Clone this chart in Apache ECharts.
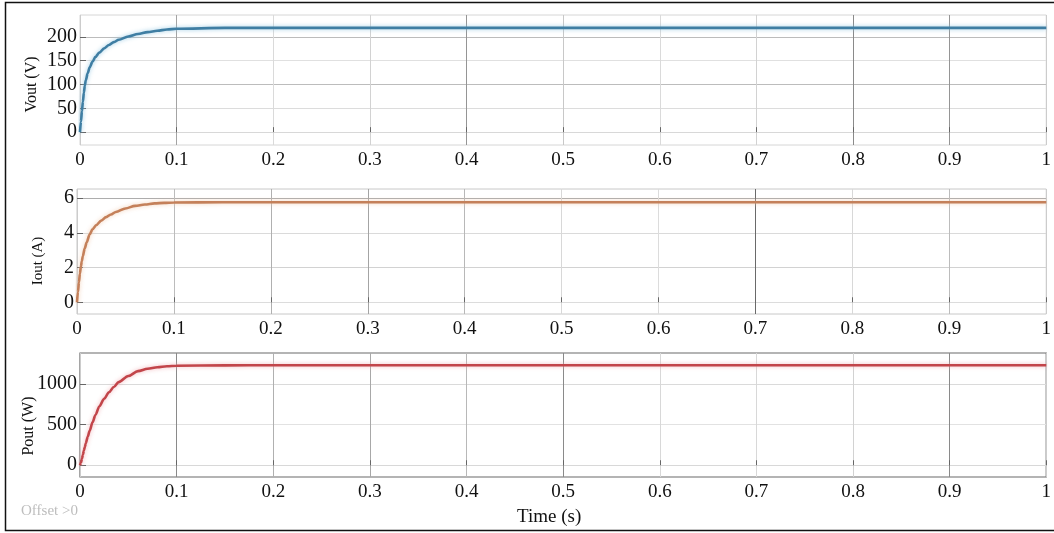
<!DOCTYPE html>
<html>
<head>
<meta charset="utf-8">
<script src="https://cdn.jsdelivr.net/npm/echarts@6/dist/echarts.min.js"></script>
<style>
html,body{margin:0;padding:0;background:#fff;}
#chart{width:1054px;height:533px;}
</style>
</head>
<body>
<div id="chart"></div>
<script>
// ---- data ----
const time = [0, 0.001, 0.002, 0.003, 0.004, 0.005, 0.006, 0.008, 0.010, 0.013, 0.016, 0.020, 0.025, 0.030, 0.035, 0.040, 0.050, 0.060, 0.070, 0.080, 0.090, 0.100, 0.15, 0.2, 0.3, 0.4, 0.5, 0.6, 0.7, 0.8, 0.9, 1.0];
const vout = [0, 22, 44, 64, 83, 98, 109, 124, 136, 148, 158, 167, 176, 183, 189, 194, 201, 206, 210, 213, 215.5, 217, 219, 219, 219, 219, 219, 219, 219, 219, 219, 219];
const iout = [0, 0.6, 1.15, 1.65, 2.05, 2.37, 2.65, 3.1, 3.45, 3.9, 4.2, 4.45, 4.7, 4.9, 5.05, 5.2, 5.4, 5.55, 5.63, 5.69, 5.72, 5.74, 5.76, 5.76, 5.76, 5.76, 5.76, 5.76, 5.76, 5.76, 5.76, 5.76];
const pout = [0, 30, 80, 130, 180, 225, 270, 350, 425, 530, 620, 725, 820, 900, 965, 1025, 1100, 1160, 1190, 1208, 1220, 1227, 1232, 1233, 1233, 1233, 1233, 1233, 1233, 1233, 1233, 1233];
const voutTicks = [0, 50, 100, 150, 200];
const ioutTicks = [0, 2, 4, 6];
const poutTicks = [0, 500, 1000];
const timeTicksInterval = 0.1;
const yNames = ['Vout (V)', 'Iout (A)', 'Pout (W)'];

const pair = (ys) => time.map((t, i) => [t, ys[i]]);
const serif = 'Liberation Serif';

const grids = [
  {left: 80, top: 15, width: 970, height: 130, show: true, borderColor: '#d6d6d6', borderWidth: 1, backgroundColor: '#fff'},
  {left: 77, top: 189, width: 974, height: 125, show: true, borderColor: '#c8c8c8', borderWidth: 1, backgroundColor: '#fff'},
  {left: 80, top: 353, width: 971, height: 124, show: true, borderColor: '#6a6a6a', borderWidth: 1.2, backgroundColor: '#fff'}
];

const vColors = [
  ['#ccc', '#a4a4a4', '#dadada', '#d2d2d2', '#959595', '#c8c8c8', '#dadada', '#d2d2d2', '#8a8a8a', '#959595', '#ccc'],
  ['#ccc', '#bcbcbc', '#b0b0b0', '#a4a4a4', '#b8b8b8', '#d8d8d8', '#dcdcdc', '#6a6a6a', '#d8d8d8', '#bcbcbc', '#ccc'],
  ['#ccc', '#8a8a8a', '#b0b0b0', '#a8a8a8', '#b8b8b8', '#8a8a8a', '#d8d8d8', '#d8d8d8', '#d2d2d2', '#8a8a8a', '#ccc']
];
const hColors = [
  ['#d8d8d8', '#dcdcdc', '#bcbcbc', '#e0e0e0', '#bcbcbc'],
  ['#dcdcdc', '#d2d2d2', '#dadada', '#adadad'],
  ['#d8d8d8', '#e2e2e2', '#dadada']
];

const xAxes = [0, 1, 2].map(i => ({
  type: 'value', gridIndex: i, min: 0, max: 1, interval: timeTicksInterval,
  axisLine: {show: false},
  axisTick: {show: true, inside: true, length: 5, lineStyle: {color: '#666'}},
  splitLine: {show: true, lineStyle: {color: vColors[i], width: 1}},
  axisLabel: {
    fontFamily: serif, fontSize: 19, color: '#111', margin: 6,
    showMinLabel: true, showMaxLabel: true,
    formatter: v => (v === 0 ? '0' : (Math.abs(v - 1) < 1e-9 ? '1' : v.toFixed(1)))
  }
}));

const yRanges = [[-27, 246], [-0.675, 6.52], [-145, 1384]];
const yTicks = [voutTicks, ioutTicks, poutTicks];
const nameGaps = [40, 31, 43];
const nameSizes = [16, 15, 16];
const namePads = [[0, 9, 0, 0], [0, 19, 0, 0], [0, 22, 0, 0]];
const yAxes = [0, 1, 2].map(i => ({
  type: 'value', gridIndex: i, min: yRanges[i][0], max: yRanges[i][1],
  name: yNames[i], nameLocation: 'middle', nameGap: nameGaps[i], nameRotate: 90,
  nameMoveOverlap: false,
  nameTextStyle: {fontFamily: serif, fontSize: nameSizes[i], color: '#111', padding: namePads[i]},
  axisLine: {show: false},
  axisTick: {show: true, inside: true, length: 6, customValues: yTicks[i], lineStyle: {color: '#666'}},
  splitLine: {show: true, lineStyle: {color: hColors[i], width: 1}},
  axisLabel: {
    customValues: yTicks[i], fontFamily: serif, fontSize: 20, color: '#111', margin: 3,
    formatter: v => String(v)
  }
}));

const seriesDefs = [
  {data: vout, color: '#3f7ea3', glow: 'rgba(140,195,225,0.85)'},
  {data: iout, color: '#c4805a', glow: 'rgba(240,200,170,0.85)'},
  {data: pout, color: '#c2454a', glow: 'rgba(240,170,176,0.85)'}
];

const chart = echarts.init(document.getElementById('chart'), null, {renderer: 'canvas'});
chart.setOption({
  animation: false,
  backgroundColor: '#fff',
  grid: grids,
  xAxis: xAxes,
  yAxis: yAxes,
  series: seriesDefs.map((s, i) => ({
    type: 'line', xAxisIndex: i, yAxisIndex: i,
    data: pair(s.data), showSymbol: false, smooth: 0.3, smoothMonotone: 'x',
    lineStyle: {color: s.color, width: 2.6, shadowColor: s.glow, shadowBlur: 4},
    itemStyle: {color: s.color}
  })),
  graphic: [
    {type: 'rect', shape: {x: 5.5, y: 2.5, width: 1070, height: 528}, style: {fill: 'none', stroke: '#111', lineWidth: 1.5}, silent: true, z: 100},
    {type: 'text', left: 517, top: 508, style: {text: 'Time (s)', font: '19px "Liberation Serif"', fill: '#111'}},
    {type: 'text', left: 21, top: 504, style: {text: 'Offset >0', font: '15px "Liberation Serif"', fill: '#bdbdbd'}}
  ]
});
</script>
</body>
</html>
